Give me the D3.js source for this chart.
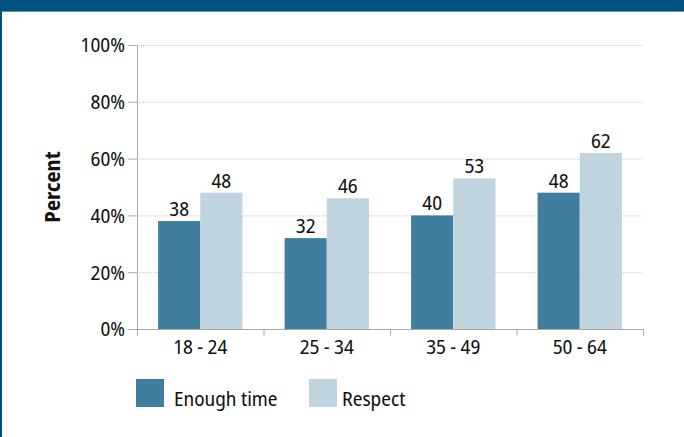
<!DOCTYPE html>
<html><head><meta charset="utf-8">
<script src="https://cdn.jsdelivr.net/npm/d3@7"></script>
<style>
html,body{margin:0;padding:0;background:#fff;}
svg{display:block;}
text{font-family:"Noto Sans Display","Noto Sans",sans-serif;font-stretch:condensed;fill:#111;}
</style></head>
<body>
<svg id="chart" width="684" height="437"></svg>
<script>
const categories = ["18 - 24", "25 - 34", "35 - 49", "50 - 64"];
const seriesNames = ["Enough time", "Respect"];
const enoughTime = [38, 32, 40, 48];
const respect = [48, 46, 53, 62];
const yTicks = [0, 20, 40, 60, 80, 100];
const colors = ["#407e9f", "#c0d4df"];

const svg = d3.select("#chart");
const W = 684, H = 437;
const FS = 20;

// frame
svg.append("rect").attr("x",0).attr("y",0).attr("width",W).attr("height",H).attr("fill","#fff");
svg.append("rect").attr("x",0).attr("y",0).attr("width",W).attr("height",11).attr("fill","#00537e");
svg.append("rect").attr("x",0).attr("y",11).attr("width",W).attr("height",1).attr("fill","#5d93b3");
svg.append("rect").attr("x",0).attr("y",0).attr("width",2).attr("height",H).attr("fill","#00537e");

const pL = 137, pR = 643, pT = 45, pB = 329;
const x = d3.scaleBand().domain(categories).range([pL, pR]).paddingInner(0).paddingOuter(0);
const x1 = d3.scaleBand().domain(seriesNames).range([0, x.bandwidth()]).paddingInner(0).paddingOuter(0.5);
const y = d3.scaleLinear().domain([0, 100]).range([pB, pT]);

// gridlines
svg.append("g").selectAll("line").data(yTicks.filter(d => d > 0)).join("line")
  .attr("x1", pL).attr("x2", pR)
  .attr("y1", d => y(d) + 0.5).attr("y2", d => y(d) + 0.5)
  .attr("stroke", "#c8c8c8").attr("stroke-width", 1).attr("stroke-dasharray", "1,1");

// bars
const series = [enoughTime, respect];
const groups = svg.append("g").selectAll("g").data(categories).join("g")
  .attr("transform", d => `translate(${x(d)},0)`);
groups.selectAll("rect").data((d, i) => seriesNames.map((s, j) => ({s, j, v: series[j][i]}))).join("rect")
  .attr("x", d => x1(d.s)).attr("width", x1.bandwidth())
  .attr("y", d => y(d.v)).attr("height", d => y(0) - y(d.v))
  .attr("fill", d => colors[d.j]);
groups.selectAll("text").data((d, i) => seriesNames.map((s, j) => ({s, j, v: series[j][i]}))).join("text")
  .attr("x", d => x1(d.s) + x1.bandwidth() / 2).attr("y", d => y(d.v) - 5)
  .attr("text-anchor", "middle").attr("font-size", FS).text(d => d.v);

// y axis
const yAxis = d3.axisLeft(y).tickValues(yTicks).tickFormat(d => d + "%").tickSize(9).tickPadding(3);
const gy = svg.append("g").attr("transform", `translate(${pL},0)`).call(yAxis);
gy.select(".domain").attr("stroke", "#aaa").attr("d", `M0.5,${pT}V${pB}`);
gy.selectAll(".tick line").attr("stroke", "#aaa");
gy.selectAll(".tick text").attr("font-size", FS).attr("fill", "#111").attr("font-family", null).attr("dy", "0.34em");

// x axis
const xTickPos = d3.scaleLinear().domain([0, categories.length]).range([pL, pR]);
const gx = svg.append("g").attr("transform", `translate(0,${pB})`);
gx.append("line").attr("x1", pL).attr("x2", pR).attr("y1", 0.5).attr("y2", 0.5).attr("stroke", "#aaa");
gx.selectAll("line.t").data(d3.range(categories.length + 1)).join("line").attr("class","t")
  .attr("x1", d => xTickPos(d) + 0.5).attr("x2", d => xTickPos(d) + 0.5).attr("y1", 0).attr("y2", 7).attr("stroke", "#aaa");
gx.selectAll("text").data(categories).join("text")
  .attr("x", d => x(d) + x.bandwidth() / 2).attr("y", 25)
  .attr("text-anchor", "middle").attr("font-size", FS).text(d => d);

// y label
svg.append("text").attr("transform", `translate(60,${(pT + pB) / 2}) rotate(-90)`)
  .attr("text-anchor", "middle").attr("font-size", 21).attr("font-weight", "bold").text("Percent");

// legend
const legendX = [136, 309];
const legendTextDx = [38, 33];
const lg = svg.append("g").selectAll("g").data(seriesNames).join("g")
  .attr("transform", (d, i) => `translate(${legendX[i]},379)`);
lg.append("rect").attr("width", 28).attr("height", 28).attr("fill", (d, i) => colors[i]);
lg.append("text").attr("x", (d, i) => legendTextDx[i]).attr("y", 27).attr("font-size", FS).text(d => d);
</script>
</body></html>
